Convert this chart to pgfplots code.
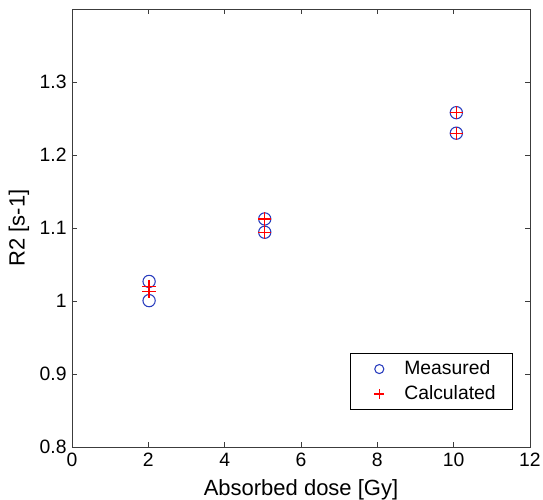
\documentclass[border=0pt]{standalone}
\usepackage{pgfplots}
\pgfplotsset{compat=1.18}
\usepackage{fontspec}
\setmainfont{Liberation Sans}
\definecolor{mblue}{RGB}{40,60,190}
\definecolor{axgray}{RGB}{60,60,60}
\begin{document}
\begin{tikzpicture}
\begin{axis}[
  at={(0,0)}, anchor=south west,
  scale only axis, width=343.5pt, height=328.5pt,
  xmin=0, xmax=12, ymin=0.8, ymax=1.4,
  xtick={0,2,...,12}, ytick={0.8,0.9,1,1.1,1.2,1.3},
  yticklabels={0.8,0.9,1,1.1,1.2,1.3},
  xticklabels={0,2,4,6,8,10,12},
  tick align=inside, tickpos=both,
  major tick length=4pt,
  axis line style={axgray, line width=0.6pt},
  every tick/.style={axgray, line width=0.6pt},
  ticklabel style={font=\fontsize{14.5}{17}\selectfont},
  xticklabel style={yshift=-1pt},
  yticklabel style={xshift=-0.5pt},
  label style={font=\fontsize{16.5}{19}\selectfont},
  xlabel={Absorbed dose [Gy]},
  ylabel={R2 [s-1]},
  xlabel style={at={(axis description cs:0.5,0)}, anchor=base, yshift=-36pt},
  ylabel style={at={([xshift=-39.75pt]axis description cs:0,0.5)}, anchor=center},
  legend style={at={(0.963,0.0845)}, anchor=south east, draw=black, line width=0.6pt,
    font=\fontsize{14.5}{17}\selectfont, inner xsep=11.25pt, inner ysep=3.4pt,
    row sep=2.25pt, nodes={inner sep=1.5pt, text height=10.5pt, text depth=3pt}},
  legend cell align=left,
]
\addplot[only marks, mark=o, mark size=4.6pt, mblue, line width=0.8pt,
  legend image code/.code={\draw[only marks, mark size=3.4pt]
     plot coordinates {(10.5pt,0pt)};
     \path[draw=none, fill=none] (0pt,0pt) -- (27.75pt,0pt);}]
  coordinates {(2.02,1.0268) (2.02,1.0005) (5.05,1.1124) (5.05,1.0942) (10.07,1.2580) (10.07,1.2299)};
\addlegendentry{Measured}
\addplot[only marks, mark=+, mark size=5pt, red, line width=0.9pt,
  legend image code/.code={\draw[only marks, mark size=3.75pt]
     plot coordinates {(10.5pt,0pt)};
     \path[draw=none, fill=none] (0pt,0pt) -- (27.75pt,0pt);}]
  coordinates {(2.02,1.0200) (2.02,1.0135) (5.05,1.1124) (5.05,1.0942) (10.07,1.2580) (10.07,1.2299)};
\addlegendentry{Calculated}
\end{axis}
\pgfresetboundingbox
\path (-54pt,-39.75pt) rectangle (353.25pt,335.25pt);
\end{tikzpicture}
\end{document}
